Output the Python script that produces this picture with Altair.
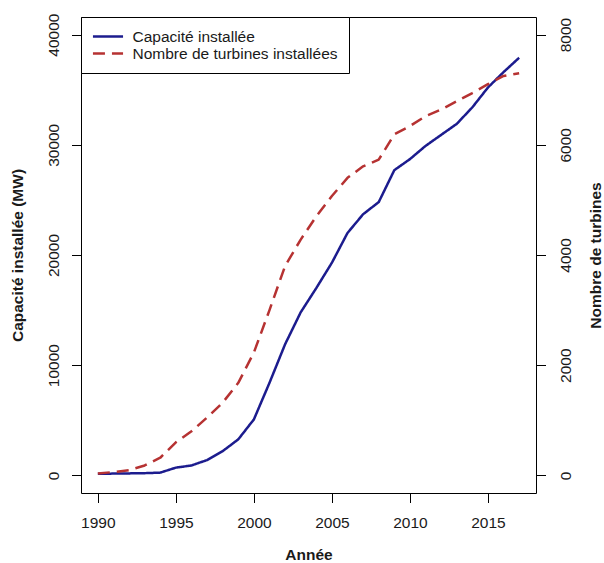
import altair as alt
import pandas as pd

# Installed wind capacity (MW) and number of turbines, 1990-2017
annees = list(range(1990, 2018))
capacite_mw = [150, 160, 180, 200, 250, 700, 900, 1390, 2200, 3270,
               5080, 8400, 11900, 14800, 17000, 19300, 22000, 23700, 24800, 27700,
               28700, 29900, 30900, 31900, 33400, 35200, 36600, 37900]
nb_turbines = [36, 60, 95, 180, 320, 600, 800, 1050, 1320, 1680,
               2230, 3000, 3800, 4280, 4700, 5070, 5400, 5610, 5730, 6190,
               6340, 6520, 6640, 6790, 6940, 7100, 7250, 7300]

series = ["Capacité installée", "Nombre de turbines installées"]
couleurs = ["#1c1c8e", "#b63232"]
tirets = [[1, 0], [12, 7]]

x_ticks = [1990, 1995, 2000, 2005, 2010, 2015]
cap_ticks = [0, 10000, 20000, 30000, 40000]
turb_ticks = [0, 2000, 4000, 6000, 8000]


def etendre(lo, hi, f=0.04):
    # pad an interval by 4% on each side
    d = (hi - lo) * f
    return [lo - d, hi + d]


x_dom = etendre(min(annees), max(annees))
cap_dom = etendre(min(cap_ticks), max(cap_ticks))
turb_dom = etendre(min(turb_ticks), max(turb_ticks))

W, H = 455, 476
FONT = "Liberation Sans"
FS = 15.5

df_cap = pd.DataFrame({"annee": annees, "valeur": capacite_mw, "serie": series[0]})
df_turb = pd.DataFrame({"annee": annees, "valeur": nb_turbines, "serie": series[1]})

# legend key: a horizontal stroke about 30 px long, rows 17 px apart
legende = alt.Legend(
    title=None, orient="none", legendX=0, legendY=0,
    strokeColor="black", fillColor="white", padding=11, cornerRadius=0,
    symbolType="M-2.15,0H2.15", symbolSize=196, symbolStrokeWidth=2.5,
    symbolOffset=7.5, labelOffset=16, labelLimit=0,
    labelFont=FONT, labelFontSize=FS, labelColor="#1a1a1a",
    rowPadding=0,
)

x_enc = alt.X(
    "annee:Q",
    scale=alt.Scale(domain=x_dom, nice=False, zero=False),
    axis=alt.Axis(values=x_ticks, format="d", labelBaseline="alphabetic",
                  labelPadding=24.5, labelFlush=False, labelOverlap=False,
                  title="Année", titleBaseline="alphabetic", titleAlign="center",
                  titleX=W / 2, titleY=66.5),
)
color_enc = alt.Color("serie:N", scale=alt.Scale(domain=series, range=couleurs), legend=legende)
dash_enc = alt.StrokeDash("serie:N", scale=alt.Scale(domain=series, range=tirets), legend=legende)

ligne_cap = alt.Chart(df_cap).mark_line(strokeWidth=2.5, strokeJoin="round").encode(
    x=x_enc,
    y=alt.Y(
        "valeur:Q",
        scale=alt.Scale(domain=cap_dom, nice=False, zero=False),
        axis=alt.Axis(orient="left", values=cap_ticks, format="d",
                      labelAngle=270, labelAlign="center", labelBaseline="alphabetic",
                      labelPadding=13.2, labelFlush=False, labelOverlap=False,
                      title="Capacité installée (MW)", titleAngle=270,
                      titleAlign="center", titleBaseline="alphabetic",
                      titleX=-59, titleY=H / 2),
    ),
    color=color_enc,
    strokeDash=dash_enc,
)

ligne_turb = alt.Chart(df_turb).mark_line(strokeWidth=2.5, strokeJoin="round").encode(
    x=x_enc,
    y=alt.Y(
        "valeur:Q",
        scale=alt.Scale(domain=turb_dom, nice=False, zero=False),
        axis=alt.Axis(orient="right", values=turb_ticks, format="d",
                      labelAngle=270, labelAlign="center", labelBaseline="alphabetic",
                      labelPadding=24.5, labelFlush=False, labelOverlap=False,
                      title="Nombre de turbines", titleAngle=270,
                      titleAlign="center", titleBaseline="alphabetic",
                      titleX=64, titleY=H / 2),
    ),
    color=color_enc,
    strokeDash=dash_enc,
)

chart = (
    alt.layer(ligne_cap, ligne_turb)
    .resolve_scale(y="independent")
    .properties(
        width=W, height=H,
        autosize=alt.AutoSizeParams(type="none"),
        padding={"left": 81, "top": 17, "right": 68, "bottom": 70},
        background="white",
    )
    .configure_view(stroke="black", strokeWidth=1)
    .configure_axis(
        domain=False, grid=False,
        tickColor="black", tickSize=9.5, tickWidth=1,
        labelFont=FONT, labelFontSize=FS, labelColor="#1a1a1a",
        titleFont=FONT, titleFontSize=FS, titleFontWeight="bold", titleColor="#1a1a1a",
    )
)

chart.save("out.html", embed_options={"renderer": "svg", "actions": False})
